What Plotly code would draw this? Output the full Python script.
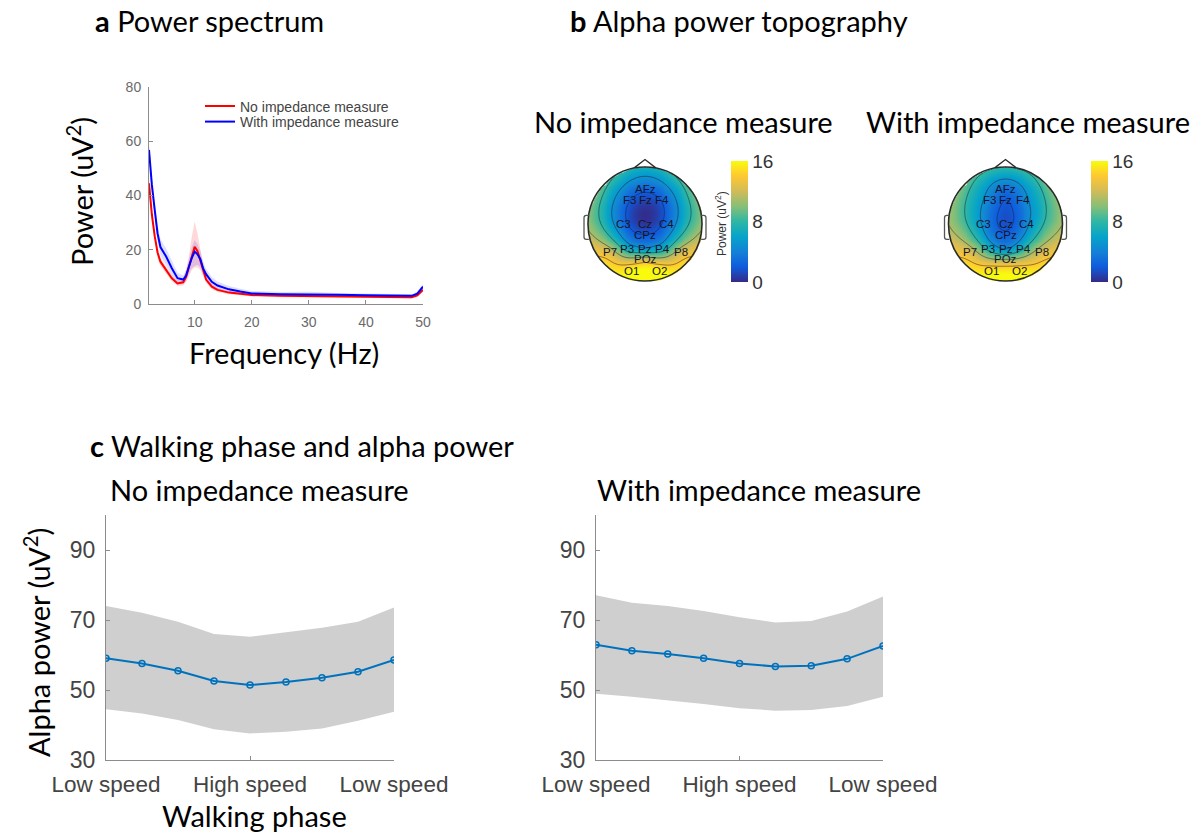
import numpy as np
import plotly.graph_objects as go

W, H = 1200, 836

# ---------------- Panel a: power spectrum ----------------
freq = [2, 2.5, 3, 3.5, 4, 5, 6, 7, 8, 8.5, 9, 9.5, 10, 10.5, 11, 11.5, 12, 13, 14, 16,
        18, 20, 25, 30, 35, 40, 45, 48, 49, 50]
red_mean = [44.5, 33, 25, 19, 15.6, 12.5, 9.5, 7.6, 8.0, 10, 13.8, 18, 21.1, 19.5, 16, 12, 9,
            6.4, 5.2, 4.2, 3.7, 3.3, 3.0, 2.9, 2.8, 2.7, 2.6, 2.5, 3.2, 5.2]
red_hi = [47, 35.5, 27, 21, 17.2, 13.8, 10.7, 8.8, 9.5, 12.5, 18, 25, 30.4, 26, 20, 14.5, 10.5,
          7.5, 6.1, 4.9, 4.3, 3.8, 3.5, 3.4, 3.3, 3.2, 3.1, 3.0, 3.8, 6.0]
red_lo = [42, 30.5, 23, 17, 14, 11.2, 8.4, 6.6, 6.8, 8, 10.5, 12.5, 13.5, 13.5, 12.5, 10, 7.8,
          5.4, 4.4, 3.6, 3.2, 2.8, 2.5, 2.4, 2.3, 2.2, 2.1, 2.0, 2.6, 4.4]
blue_mean = [56.8, 44, 34.7, 26, 21, 17.5, 13.2, 9.5, 9.0, 10.5, 13.8, 17, 19.3, 18.3, 16.5, 13, 11,
             8.2, 6.8, 5.4, 4.6, 3.9, 3.6, 3.6, 3.4, 3.2, 3.0, 3.0, 3.8, 6.4]
blue_hi = [59, 46.5, 37.5, 29, 24, 20.5, 16, 11.5, 10.5, 12.5, 16.5, 21, 23.6, 22, 19.5, 15.5, 13,
           10, 8.3, 6.6, 5.6, 4.8, 4.4, 4.5, 4.1, 3.9, 3.7, 3.6, 4.6, 7.4]
blue_lo = [54.5, 41.5, 32, 23, 18, 14.5, 10.5, 7.8, 7.6, 8.7, 11.2, 13.3, 14, 14.5, 13.5, 11, 9.3,
           6.6, 5.4, 4.3, 3.7, 3.1, 2.9, 2.8, 2.7, 2.6, 2.4, 2.4, 3.1, 5.4]
spec_xticks = [10, 20, 30, 40, 50]
spec_yticks = [0, 20, 40, 60, 80]

# ---------------- Panel b: topographies ----------------
channels = ["AFz", "F3", "Fz", "F4", "C3", "Cz", "C4", "CPz",
            "P7", "P3", "Pz", "P4", "P8", "POz", "O1", "O2"]
chan_x = [0.0, -0.28, 0.0, 0.30, -0.38, 0.0, 0.37, 0.0,
          -0.62, -0.31, 0.0, 0.31, 0.64, 0.0, -0.24, 0.25]
chan_y = [0.61, 0.42, 0.42, 0.42, 0.0, 0.0, 0.0, -0.2,
          -0.5, -0.44, -0.44, -0.44, -0.5, -0.62, -0.82, -0.82]
alpha_no = [2.5, 2.2, 1.0, 2.2, 2.8, 0.5, 2.8, 2.2,
            12.5, 7.0, 5.5, 7.0, 12.5, 12.5, 16, 16]
alpha_with = [3.0, 4.0, 2.0, 4.0, 4.5, 1.5, 4.5, 2.5,
              12.5, 7.5, 5.0, 8.0, 12.5, 11.0, 15.5, 15.5]
# values read along the scalp rim (angle in degrees, 90 = nose, -90 = back)
rim_angle = [90, 60, 30, 0, -30, -60, -90, -120, -150, 180, 150, 120]
rim_no = [7.0, 8.0, 9.5, 10.5, 13.5, 15.5, 17.0, 15.5, 13.5, 10.5, 9.5, 8.0]
rim_with = [8.0, 8.5, 10.0, 11.0, 13.5, 15.5, 17.0, 15.5, 13.5, 11.0, 10.0, 8.5]
cbar_ticks = [0, 8, 16]

# ---------------- Panel c: walking phase ----------------
phase = [1, 2, 3, 4, 5, 6, 7, 8, 9]
phase_tickvals = [1, 5, 9]
phase_ticktext = ["Low speed", "High speed", "Low speed"]
no_imp_mean = [59.1, 57.6, 55.5, 52.6, 51.4, 52.3, 53.5, 55.2, 58.6]
no_imp_hi = [74.0, 72.1, 69.5, 66.0, 65.2, 66.4, 67.8, 69.5, 73.6]
no_imp_lo = [44.5, 43.3, 41.4, 38.8, 37.6, 38.1, 39.0, 41.2, 43.8]
with_imp_mean = [62.9, 61.2, 60.3, 59.1, 57.6, 56.7, 56.9, 58.9, 62.6]
with_imp_hi = [77.1, 74.9, 74.0, 72.6, 70.8, 69.3, 69.7, 72.4, 76.7]
with_imp_lo = [48.9, 48.1, 47.1, 46.0, 44.8, 44.1, 44.3, 45.4, 48.1]
alpha_yticks = [30, 50, 70, 90]

# ---------------- helpers ----------------
def px_x(p):
    return p / W


def px_y(p):
    return 1 - p / H


PARULA = [[0.0, "#352a87"], [0.125, "#0f5cdd"], [0.25, "#1481d6"], [0.375, "#06a4ca"],
          [0.5, "#2eb7a4"], [0.625, "#87bf77"], [0.75, "#d1bb59"], [0.875, "#fec832"],
          [1.0, "#f9fb0e"]]

TITLE_FONT = "Lato, 'Open Sans', sans-serif"
TICK_FONT = "'Liberation Sans', Arial, sans-serif"


def green(r):
    out = np.zeros_like(r)
    m = r > 0
    out[m] = r[m] ** 2 * (np.log(r[m]) - 1)
    return out


def topo_grid(xs, ys, zs, n=121):
    xs = np.asarray(xs, float)
    ys = np.asarray(ys, float)
    zs = np.asarray(zs, float)
    d = np.hypot(xs[:, None] - xs[None, :], ys[:, None] - ys[None, :])
    w = np.linalg.solve(green(d), zs)
    g = np.linspace(-1, 1, n)
    gx, gy = np.meshgrid(g, g)
    dg = np.hypot(gx[..., None] - xs, gy[..., None] - ys)
    z = (green(dg) * w).sum(-1)
    z = np.clip(z, 0, 17)
    z[np.hypot(gx, gy) > 1.0] = np.nan
    return g, z


fig = go.Figure()

# ---- panel a traces ----
fig.add_trace(go.Scatter(x=freq + freq[::-1], y=red_hi + red_lo[::-1], fill="toself", mode="lines",
                         fillcolor="rgba(255,0,0,0.15)", line=dict(width=0),
                         showlegend=False, hoverinfo="skip", xaxis="x", yaxis="y"))
fig.add_trace(go.Scatter(x=freq + freq[::-1], y=blue_hi + blue_lo[::-1], fill="toself", mode="lines",
                         fillcolor="rgba(0,0,255,0.13)", line=dict(width=0),
                         showlegend=False, hoverinfo="skip", xaxis="x", yaxis="y"))
fig.add_trace(go.Scatter(x=freq, y=red_mean, mode="lines", line=dict(color="#ff0000", width=2),
                         name="No impedance measure", legend="legend", xaxis="x", yaxis="y"))
fig.add_trace(go.Scatter(x=freq, y=blue_mean, mode="lines", line=dict(color="#0000ff", width=2),
                         name="With impedance measure", legend="legend2", xaxis="x", yaxis="y"))

# ---- panel b traces ----
rim_x = list(np.cos(np.radians(rim_angle)))
rim_y = list(np.sin(np.radians(rim_angle)))
topo_specs = [
    (alpha_no, rim_no, "x2", "y2", 731),
    (alpha_with, rim_with, "x3", "y3", 1091),
]
for vals, rimv, xa, ya, cbx in topo_specs:
    g, z = topo_grid(chan_x + rim_x, chan_y + rim_y, vals + rimv)
    fig.add_trace(go.Heatmap(
        x=g, y=g, z=z, zmin=0, zmax=16, colorscale=PARULA, zsmooth="best",
        xaxis=xa, yaxis=ya, hoverinfo="skip", showlegend=False,
        colorbar=dict(x=px_x(cbx), xanchor="left", y=px_y(221.5), yanchor="middle",
                      len=121 / H, lenmode="fraction", thickness=17, xpad=0, ypad=0,
                      outlinewidth=0, tickvals=cbar_ticks, ticks="",
                      tickfont=dict(family=TICK_FONT, size=19, color="#333333"))))
    fig.add_trace(go.Contour(
        x=g, y=g, z=z, showscale=False, hoverinfo="skip", showlegend=False,
        contours=dict(coloring="none", start=2, end=14, size=3),
        line=dict(color="rgba(30,30,50,0.65)", width=0.8),
        xaxis=xa, yaxis=ya))
    for name, cx, cy in zip(channels, chan_x, chan_y):
        fig.add_annotation(x=cx, y=cy, xref=xa, yref=ya, text=name, showarrow=False,
                           font=dict(family=TICK_FONT, size=11.5, color="#15152a"))

# ---- panel c traces ----
for mean, hi, lo, xa, ya in [(no_imp_mean, no_imp_hi, no_imp_lo, "x4", "y4"),
                             (with_imp_mean, with_imp_hi, with_imp_lo, "x5", "y5")]:
    fig.add_trace(go.Scatter(x=phase + phase[::-1], y=hi + lo[::-1], fill="toself", mode="lines",
                             fillcolor="rgb(207,207,207)", line=dict(width=0),
                             showlegend=False, hoverinfo="skip", xaxis=xa, yaxis=ya))
    fig.add_trace(go.Scatter(x=phase, y=mean, mode="lines+markers",
                             line=dict(color="#0072BD", width=2),
                             marker=dict(symbol="circle-open", size=6, color="#0072BD",
                                         line=dict(width=1.5)),
                             showlegend=False, xaxis=xa, yaxis=ya))

# ---- axes ----
axis_common = dict(showgrid=False, zeroline=False, showline=True, linecolor="#8c8c8c",
                   linewidth=1, ticks="inside", ticklen=4, tickcolor="#8c8c8c", fixedrange=True)

R = 57.0  # px head radius
half = 1.25 * R


def head_domain(cx, cy):
    return [px_x(cx - half), px_x(cx + half)], [px_y(cy + half), px_y(cy - half)]


dx2, dy2 = head_domain(645, 224)
dx3, dy3 = head_domain(1005.5, 224)

tick_a = dict(family=TICK_FONT, size=14, color="#6a6a6a")
tick_cx = dict(family=TICK_FONT, size=22.5, color="#444444")
tick_cy = dict(family=TICK_FONT, size=23, color="#444444")

fig.update_layout(
    width=W, height=H, margin=dict(l=0, r=0, t=0, b=0, autoexpand=False),
    paper_bgcolor="white", plot_bgcolor="white",
    xaxis=dict(domain=[px_x(149), px_x(423)], range=[2, 50], tickvals=spec_xticks,
               tickfont=tick_a, anchor="y", ticklabelstandoff=5, **axis_common),
    yaxis=dict(domain=[px_y(304), px_y(87)], range=[0, 80], tickvals=spec_yticks,
               tickfont=tick_a, anchor="x", ticklabelstandoff=4, **axis_common),
    xaxis2=dict(domain=dx2, range=[-1.25, 1.25], visible=False, anchor="y2", fixedrange=True),
    yaxis2=dict(domain=dy2, range=[-1.25, 1.25], visible=False, anchor="x2", fixedrange=True),
    xaxis3=dict(domain=dx3, range=[-1.25, 1.25], visible=False, anchor="y3", fixedrange=True),
    yaxis3=dict(domain=dy3, range=[-1.25, 1.25], visible=False, anchor="x3", fixedrange=True),
    xaxis4=dict(domain=[px_x(106), px_x(394)], range=[1, 9], tickvals=phase_tickvals,
                ticktext=phase_ticktext, anchor="y4", ticklabelstandoff=4,
                tickfont=tick_cx, **axis_common),
    yaxis4=dict(domain=[px_y(760), px_y(515)], range=[30, 100], tickvals=alpha_yticks,
                anchor="x4", ticklabelstandoff=5, tickfont=tick_cy, **axis_common),
    xaxis5=dict(domain=[px_x(596), px_x(883)], range=[1, 9], tickvals=phase_tickvals,
                ticktext=phase_ticktext, anchor="y5", ticklabelstandoff=4,
                tickfont=tick_cx, **axis_common),
    yaxis5=dict(domain=[px_y(760), px_y(515)], range=[30, 100], tickvals=alpha_yticks,
                anchor="x5", ticklabelstandoff=5, tickfont=tick_cy, **axis_common),
    legend=dict(x=px_x(200), y=px_y(106.5), xanchor="left", yanchor="middle",
                bgcolor="rgba(0,0,0,0)", font=dict(family=TICK_FONT, size=14, color="#444444")),
    legend2=dict(x=px_x(200), y=px_y(122), xanchor="left", yanchor="middle",
                 bgcolor="rgba(0,0,0,0)", font=dict(family=TICK_FONT, size=14, color="#444444")),
)

# ---- head outlines (decoration) ----
for xa, ya in [("x2", "y2"), ("x3", "y3")]:
    fig.add_shape(type="circle", xref=xa, yref=ya, x0=-1, x1=1, y0=-1, y1=1,
                  line=dict(color="#2a2a2a", width=1.6))
    fig.add_shape(type="path", xref=xa, yref=ya,
                  path="M -0.19 0.985 L 0 1.13 L 0.19 0.985",
                  line=dict(color="#2a2a2a", width=1.3))
    fig.add_shape(type="path", xref=xa, yref=ya,
                  path="M -0.985 0.15 L -1.03 0.15 Q -1.07 0.15 -1.07 0.11 L -1.07 -0.23 "
                       "Q -1.07 -0.27 -1.03 -0.27 L -0.985 -0.27",
                  line=dict(color="#555555", width=1.3))
    fig.add_shape(type="path", xref=xa, yref=ya,
                  path="M 0.985 0.15 L 1.03 0.15 Q 1.07 0.15 1.07 0.11 L 1.07 -0.23 "
                       "Q 1.07 -0.27 1.03 -0.27 L 0.985 -0.27",
                  line=dict(color="#555555", width=1.3))

# ---- text annotations ----
def txt(text, x, y, size=29, xanchor="left", angle=0, color="#000000", family=TITLE_FONT):
    fig.add_annotation(text=text, x=px_x(x), y=px_y(y), xref="paper", yref="paper",
                       xanchor=xanchor, yanchor="middle", showarrow=False, textangle=angle,
                       font=dict(family=family, size=size, color=color))


txt("<b>a</b> Power spectrum", 93, 20)
txt("<b>b</b> Alpha power topography", 568, 20)
txt("No impedance measure", 683, 121, xanchor="center")
txt("With impedance measure", 1028, 121, xanchor="center")
txt("<b>c</b> Walking phase and alpha power", 88, 445)
txt("No impedance measure", 108, 489)
txt("With impedance measure", 595, 489)
txt("Power (uV<sup>2</sup>)", 80, 192, xanchor="center", angle=-90)
txt("Frequency (Hz)", 284, 352, xanchor="center")
txt("Alpha power (uV<sup>2</sup>)", 37, 643, xanchor="center", angle=-90)
txt("Walking phase", 254, 815, xanchor="center")
txt("Power (uV<sup>2</sup>)", 721, 224, size=12, xanchor="center", angle=-90,
    family=TICK_FONT, color="#333333")

fig.write_html("out.html")
